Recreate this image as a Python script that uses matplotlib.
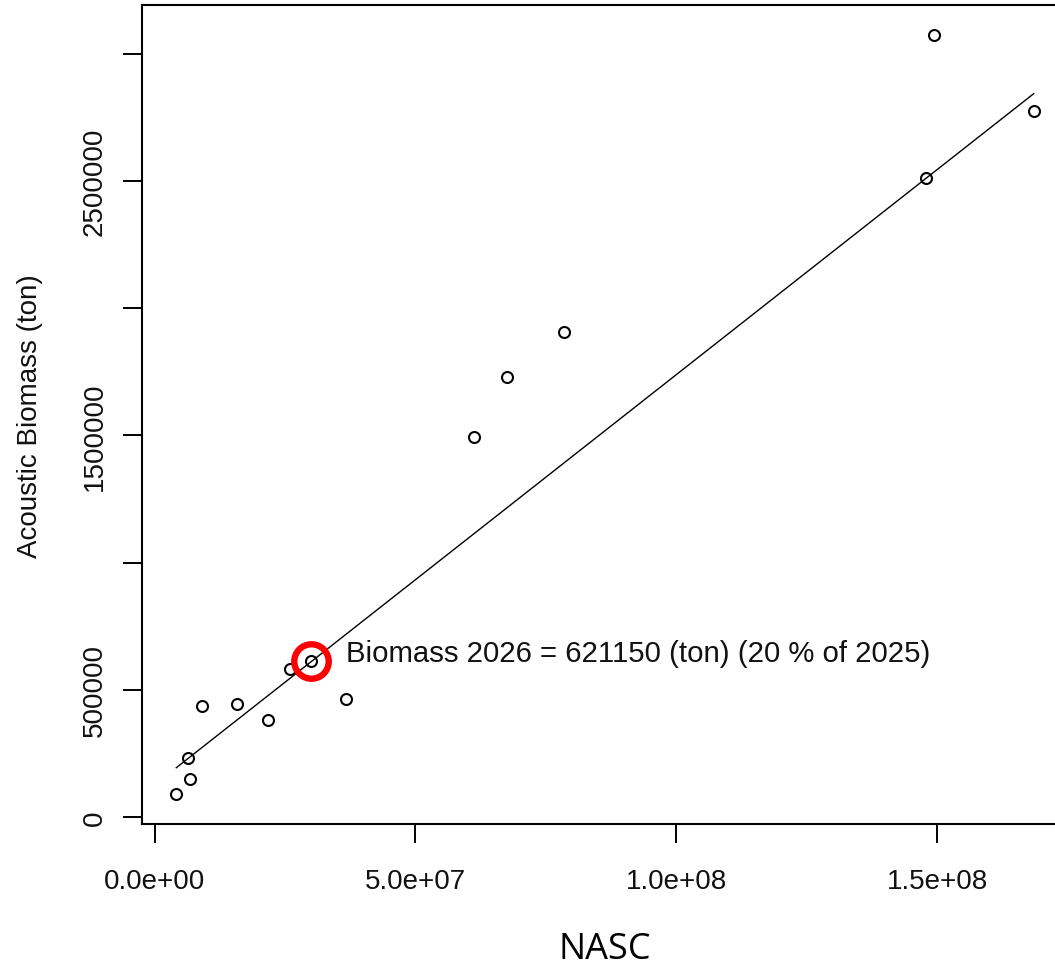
import matplotlib
matplotlib.use('Agg')
import matplotlib.pyplot as plt
import numpy as np

# NASC vs acoustic biomass
nasc = [4.17e6, 6.87e6, 6.40e6, 9.04e6, 1.590e7, 2.167e7, 2.596e7, 3.00e7,
        3.67e7, 6.12e7, 6.76e7, 7.85e7, 1.479e8, 1.494e8, 1.685e8]
biomass = [91500, 147700, 232900, 434300, 444900, 382100, 582400, 612600,
           463400, 1492300, 1730200, 1906900, 2510500, 3073300, 2777600]

# fitted line as drawn (intercept, slope)
fit_intercept = 126300
fit_slope = 0.016128

# highlighted 2026 point
nasc_2026 = 3.00e7
biomass_2026 = 612600
note = 'Biomass 2026 = 621150 (ton) (20 % of 2025)'

xticks = [0, 5e7, 1e8, 1.5e8]
xticklabels = ['0.0e+00', '5.0e+07', '1.0e+08', '1.5e+08']
yticks = [0, 500000, 1000000, 1500000, 2000000, 2500000, 3000000]
yticklabels = ['0', '500000', '', '1500000', '', '2500000', '']

W, H = 1055, 970
fig = plt.figure(figsize=(W / 100, H / 100), dpi=100)
# right edge of the box is cut off in the original
ax = fig.add_axes([142 / W, 1 - 825 / H, (1068 - 142) / W, (825 - 6) / H])

rfont = 'Liberation Sans'

ax.plot(nasc, biomass, 'o', ms=7.9, mfc='none', mec='black', mew=1.5)

xs = np.array([min(nasc), max(nasc)])
ax.plot(xs, fit_intercept + fit_slope * xs, color='black', lw=1.0)

ax.plot([nasc_2026], [biomass_2026], 'o', ms=24.8, mfc='none', mec='red', mew=4.6)
ax.annotate(note, xy=(nasc_2026, biomass_2026), xytext=(25, 6),
            textcoords='offset points', ha='left', va='center',
            fontsize=21.2, family=rfont, color='#111111')

# R style limits (4% padding)
xr = max(nasc) - min(nasc)
yr = max(biomass) - min(biomass)
ax.set_xlim(min(nasc) - 0.04 * xr, max(nasc) + 0.04 * xr)
ax.set_ylim(min(biomass) - 0.04 * yr, max(biomass) + 0.04 * yr)

ax.set_xticks(xticks)
ax.set_xticklabels(xticklabels, fontsize=20, family=rfont, color='#111111')
ax.set_yticks(yticks)
ax.set_yticklabels(yticklabels, fontsize=20, family=rfont, color='#111111',
                   rotation=90, va='center')
ax.tick_params(axis='both', direction='out', length=13.5, width=1.4)
ax.tick_params(axis='x', pad=18)
ax.tick_params(axis='y', pad=11)
for s in ax.spines.values():
    s.set_linewidth(1.5)

fig.text(37 / W, 1 - 416.5 / H, 'Acoustic Biomass (ton)', rotation=90,
         rotation_mode='anchor', ha='center', va='baseline',
         fontsize=20, family=rfont, color='#111111')
fig.text(605 / W, 1 - 959 / H, 'NASC', ha='center', va='baseline',
         fontsize=26, family='Open Sans', color='black')

fig.savefig('out.png', dpi=100)
